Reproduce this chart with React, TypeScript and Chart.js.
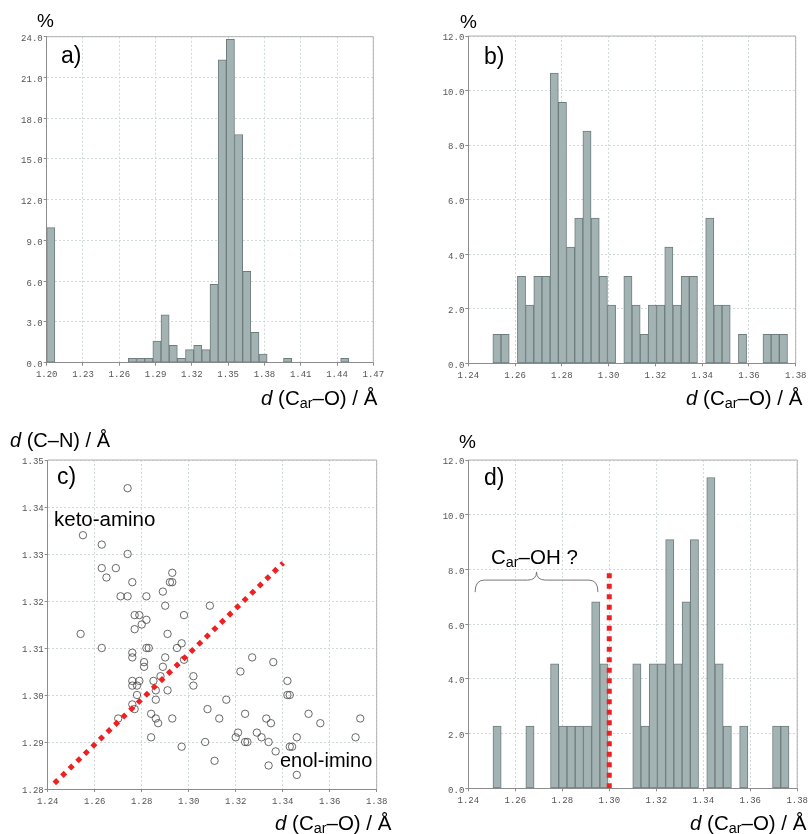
import React, { useEffect, useRef } from 'react';
import { Chart, registerables } from 'chart.js';

Chart.register(...registerables);

const SANS = '"Liberation Sans", Arial, Helvetica, sans-serif';
const MONO = '"Liberation Mono", "Courier New", monospace';

const BINS = 40;

// ---- panel a ----
const A_RANGE = [1.2, 1.47];
const A_VALUES = [
  9.94, 0, 0, 0, 0, 0, 0, 0, 0, 0,
  0.32, 0.32, 0.32, 1.6, 3.53, 1.28, 0.32, 0.96, 1.28, 0.96,
  5.77, 22.3, 23.8, 16.8, 6.73, 2.24, 0.64, 0, 0, 0.32,
  0, 0, 0, 0, 0, 0, 0.32, 0, 0, 0,
];
const A_XTICKS = [1.2, 1.23, 1.26, 1.29, 1.32, 1.35, 1.38, 1.41, 1.44, 1.47];
const A_YTICKS = [0, 3, 6, 9, 12, 15, 18, 21, 24];

// ---- panel b ----
const B_RANGE = [1.24, 1.38];
const B_VALUES = [
  0, 0, 0, 1.06, 1.06, 0, 3.19, 2.13, 3.19, 3.19,
  10.64, 9.57, 4.26, 5.32, 8.51, 5.32, 3.19, 2.13, 0, 3.19,
  2.13, 1.06, 2.13, 2.13, 4.26, 2.13, 3.19, 3.19, 0, 5.32,
  2.13, 2.13, 0, 1.06, 0, 0, 1.06, 1.06, 1.06, 0,
];
const B_XTICKS = [1.24, 1.26, 1.28, 1.3, 1.32, 1.34, 1.36, 1.38];
const B_YTICKS = [0, 2, 4, 6, 8, 10, 12];

// ---- panel c ----
const C_XRANGE = [1.24, 1.38];
const C_YRANGE = [1.28, 1.35];
const C_XTICKS = [1.24, 1.26, 1.28, 1.3, 1.32, 1.34, 1.36, 1.38];
const C_YTICKS = [1.28, 1.29, 1.3, 1.31, 1.32, 1.33, 1.34, 1.35];
const C_POINTS_X = [
  1.274, 1.255, 1.263, 1.274, 1.263, 1.269, 1.265, 1.276, 1.293, 1.292,
  1.293, 1.271, 1.274, 1.282, 1.289, 1.29, 1.309, 1.298, 1.277, 1.279,
  1.282, 1.254, 1.263, 1.277, 1.28, 1.291, 1.295, 1.297, 1.282, 1.283,
  1.276, 1.276, 1.281, 1.281, 1.29, 1.289, 1.288, 1.298, 1.302, 1.302,
  1.276, 1.276, 1.278, 1.279, 1.278, 1.285, 1.286, 1.286, 1.291, 1.276,
  1.277, 1.284, 1.286, 1.287, 1.27, 1.293, 1.284, 1.297, 1.308, 1.313,
  1.316, 1.307, 1.311, 1.322, 1.327, 1.336, 1.324, 1.321, 1.32, 1.324,
  1.325, 1.329, 1.331, 1.333, 1.335, 1.334, 1.337, 1.334, 1.342, 1.342,
  1.343, 1.343, 1.344, 1.346, 1.346, 1.351, 1.356, 1.371, 1.373,
];
const C_POINTS_Y = [
  1.344, 1.334, 1.332, 1.33, 1.327, 1.327, 1.325, 1.324, 1.326, 1.324,
  1.324, 1.321, 1.321, 1.321, 1.322, 1.319, 1.319, 1.317, 1.317, 1.317,
  1.316, 1.313, 1.31, 1.314, 1.315, 1.313, 1.31, 1.311, 1.31, 1.31,
  1.309, 1.308, 1.307, 1.306, 1.308, 1.306, 1.304, 1.3075, 1.304, 1.302,
  1.303, 1.302, 1.302, 1.303, 1.3, 1.303, 1.301, 1.299, 1.301, 1.298,
  1.297, 1.296, 1.295, 1.294, 1.295, 1.295, 1.291, 1.289, 1.297, 1.295,
  1.299, 1.29, 1.286, 1.305, 1.308, 1.307, 1.296, 1.292, 1.291, 1.29,
  1.29, 1.292, 1.291, 1.295, 1.294, 1.29, 1.288, 1.285, 1.303, 1.3,
  1.3, 1.289, 1.289, 1.291, 1.283, 1.296, 1.294, 1.291, 1.295,
];
const C_LINE_X = [1.2428, 1.3402];
const C_LINE_Y = [1.2812, 1.3281];

// ---- panel d ----
const D_RANGE = [1.24, 1.38];
const D_VALUES = [
  0, 0, 0, 2.27, 0, 0, 0, 2.27, 0, 0,
  4.55, 2.27, 2.27, 2.27, 2.27, 6.82, 4.55, 0, 0, 0,
  4.55, 2.27, 4.55, 4.55, 9.09, 4.55, 6.82, 9.09, 0, 11.36,
  4.55, 2.27, 0, 2.27, 0, 0, 0, 2.27, 2.27, 0,
];
const D_XTICKS = [1.24, 1.26, 1.28, 1.3, 1.32, 1.34, 1.36, 1.38];
const D_YTICKS = [0, 2, 4, 6, 8, 10, 12];
const D_LINE_X = [1.3, 1.3];
const D_LINE_Y = [0, 7.9];
const D_BRACE_X = [1.2429, 1.2952];
const D_BRACE_Y = [7.17, 7.61, 7.91]; // ends, line, tip

const BAR_FILL = '#a3b2b2';
const BAR_EDGE = '#6e7d7d';
const RED = '#ee2020';
const AXIS = '#8c8c8c';
const GRID = '#d0dada';

function binCenters(range: number[]) {
  const w = (range[1] - range[0]) / BINS;
  return Array.from({ length: BINS }, (_, i) => range[0] + (i + 0.5) * w);
}

function axis(min: number, max: number, ticks: number[], dec: number, horizontal: boolean) {
  return {
    type: 'linear',
    min,
    max,
    offset: false,
    afterBuildTicks: (s: any) => {
      s.ticks = ticks.map((v) => ({ value: v }));
    },
    afterFit: (s: any) => {
      if (horizontal) s.height = 20;
      else s.width = 40;
    },
    ticks: {
      autoSkip: false,
      maxRotation: 0,
      minRotation: 0,
      color: '#555',
      font: { family: MONO, size: 9 },
      padding: horizontal ? 4 : 1,
      labelOffset: horizontal ? 0 : 2,
      callback: (v: any) => Number(v).toFixed(dec),
    },
    grid: {
      offset: false,
      color: GRID,
      lineWidth: 1,
      drawTicks: true,
      tickLength: 3,
      tickColor: AXIS,
    },
    border: { display: true, color: AXIS, width: 1, dash: [2, 2] },
  };
}

const boxPlugin = {
  id: 'boxFrame',
  afterDraw(chart: any) {
    const { ctx, chartArea } = chart;
    const { left, top, right, bottom } = chartArea;
    ctx.save();
    ctx.strokeStyle = '#b0b0b0';
    ctx.lineWidth = 1;
    ctx.beginPath();
    ctx.moveTo(left, top);
    ctx.lineTo(right, top);
    ctx.lineTo(right, bottom);
    ctx.stroke();
    ctx.restore();
  },
};

const bracePlugin = {
  id: 'brace',
  afterDatasetsDraw(chart: any) {
    const { ctx, scales } = chart;
    const x = scales.x;
    const y = scales.y;
    const x0 = x.getPixelForValue(D_BRACE_X[0]);
    const x1 = x.getPixelForValue(D_BRACE_X[1]);
    const xm = (x0 + x1) / 2;
    const yEnd = y.getPixelForValue(D_BRACE_Y[0]);
    const yLine = y.getPixelForValue(D_BRACE_Y[1]);
    const yTip = y.getPixelForValue(D_BRACE_Y[2]);
    const r = 9;
    ctx.save();
    ctx.strokeStyle = '#777';
    ctx.lineWidth = 1;
    ctx.beginPath();
    ctx.moveTo(x0, yEnd);
    ctx.quadraticCurveTo(x0, yLine, x0 + r, yLine);
    ctx.lineTo(xm - r, yLine);
    ctx.quadraticCurveTo(xm, yLine, xm, yTip);
    ctx.quadraticCurveTo(xm, yLine, xm + r, yLine);
    ctx.lineTo(x1 - r, yLine);
    ctx.quadraticCurveTo(x1, yLine, x1, yEnd);
    ctx.stroke();
    ctx.restore();
  },
};

function barDataset(range: number[], values: number[]) {
  const centers = binCenters(range);
  return {
    type: 'bar',
    order: 1,
    data: centers.map((x, i) => ({ x, y: values[i] })),
    backgroundColor: BAR_FILL,
    borderColor: BAR_EDGE,
    borderWidth: 1,
    borderSkipped: false,
    barPercentage: 1,
    categoryPercentage: 1,
    grouped: false,
  };
}

function redLine(xs: number[], ys: number[]) {
  return {
    type: 'line',
    order: 0,
    data: xs.map((x, i) => ({ x, y: ys[i] })),
    borderColor: RED,
    backgroundColor: RED,
    borderWidth: 5,
    borderDash: [5, 5.5],
    borderCapStyle: 'butt',
    pointRadius: 0,
    fill: false,
    tension: 0,
  };
}

function baseOptions(padding: any, scales: any) {
  return {
    responsive: false,
    animation: false,
    events: [],
    layout: { padding },
    plugins: { legend: { display: false }, tooltip: { enabled: false } },
    scales,
  };
}

function histConfig(range: number[], values: number[], xt: number[], yt: number[], ymax: number, padding: any, extra: any[] = [], plugins: any[] = []) {
  return {
    type: 'bar',
    data: { datasets: [...extra, barDataset(range, values)] },
    options: baseOptions(padding, {
      x: axis(range[0], range[1], xt, 2, true),
      y: axis(0, ymax, yt, 1, false),
    }),
    plugins: [boxPlugin, ...plugins],
  };
}

const txt = (size: number): React.CSSProperties => ({
  position: 'absolute',
  fontFamily: SANS,
  fontSize: size,
  lineHeight: 1,
  whiteSpace: 'nowrap',
  color: '#000',
});

const subStyle: React.CSSProperties = { fontSize: '0.7em', position: 'relative', top: '0.22em' };

function XTitle({ left, top }: { left: number; top: number }) {
  return (
    <div style={{ ...txt(20.5), left, top }}>
      <i>d</i> (C<span style={subStyle}>ar</span>–O) / Å
    </div>
  );
}

export default function App() {
  const refA = useRef<HTMLCanvasElement>(null);
  const refB = useRef<HTMLCanvasElement>(null);
  const refC = useRef<HTMLCanvasElement>(null);
  const refD = useRef<HTMLCanvasElement>(null);

  useEffect(() => {
    const charts: Chart[] = [];
    charts.push(
      new Chart(
        refA.current as HTMLCanvasElement,
        histConfig(A_RANGE, A_VALUES, A_XTICKS, A_YTICKS, 24, { left: 6.7, top: 36.7, right: 32.7, bottom: 17.3 }) as any
      )
    );
    charts.push(
      new Chart(
        refB.current as HTMLCanvasElement,
        histConfig(B_RANGE, B_VALUES, B_XTICKS, B_YTICKS, 12, { left: 22.3, top: 36, right: 16.3, bottom: 16.7 }) as any
      )
    );
    charts.push(
      new Chart(refC.current as HTMLCanvasElement, {
        type: 'scatter',
        data: {
          datasets: [
            redLine(C_LINE_X, C_LINE_Y),
            {
              type: 'scatter',
              order: 1,
              data: C_POINTS_X.map((x, i) => ({ x, y: C_POINTS_Y[i] })),
              pointRadius: 3.7,
              borderColor: '#444',
              pointBorderColor: '#444',
              borderWidth: 0.8,
              pointBorderWidth: 0.8,
              backgroundColor: 'rgba(0,0,0,0)',
              pointBackgroundColor: 'rgba(0,0,0,0)',
            },
          ],
        },
        options: baseOptions(
          { left: 7.7, top: 60, right: 29.3, bottom: 25 },
          {
            x: axis(C_XRANGE[0], C_XRANGE[1], C_XTICKS, 2, true),
            y: axis(C_YRANGE[0], C_YRANGE[1], C_YTICKS, 2, false),
          }
        ),
        plugins: [boxPlugin],
      } as any)
    );
    charts.push(
      new Chart(
        refD.current as HTMLCanvasElement,
        histConfig(
          D_RANGE,
          D_VALUES,
          D_XTICKS,
          D_YTICKS,
          12,
          { left: 22.3, top: 60, right: 14.7, bottom: 25.7 },
          [redLine(D_LINE_X, D_LINE_Y)],
          [bracePlugin]
        ) as any
      )
    );
    return () => charts.forEach((c) => c.destroy());
  }, []);

  const cv = (left: number, top: number): React.CSSProperties => ({ position: 'absolute', left, top });

  return (
    <div style={{ position: 'absolute', left: 0, top: 0, width: 812, height: 834, background: '#fff', overflow: 'hidden' }}>
      <canvas ref={refA} width={406} height={400} style={cv(0, 0)} />
      <canvas ref={refB} width={406} height={400} style={cv(406, 0)} />
      <canvas ref={refC} width={406} height={434} style={cv(0, 400)} />
      <canvas ref={refD} width={406} height={434} style={cv(406, 400)} />

      <div style={{ ...txt(19), left: 37, top: 11 }}>%</div>
      <div style={{ ...txt(19), left: 460, top: 12 }}>%</div>
      <div style={{ ...txt(19), left: 459, top: 432 }}>%</div>

      <div style={{ ...txt(23), left: 61, top: 43.8 }}>a)</div>
      <div style={{ ...txt(23), left: 484, top: 44.5 }}>b)</div>
      <div style={{ ...txt(23), left: 57, top: 465 }}>c)</div>
      <div style={{ ...txt(23), left: 484, top: 465.5 }}>d)</div>

      <XTitle left={261} top={387.7} />
      <XTitle left={686} top={387.7} />
      <XTitle left={275} top={812.7} />
      <XTitle left={690} top={812.7} />

      <div style={{ ...txt(20), left: 10, top: 430 }}>
        <i>d</i> (C–N) / Å
      </div>
      <div style={{ ...txt(20.5), left: 54, top: 509 }}>keto-amino</div>
      <div style={{ ...txt(20), left: 280, top: 750 }}>enol-imino</div>
      <div style={{ ...txt(20.5), left: 491, top: 547 }}>
        C<span style={subStyle}>ar</span>–OH ?
      </div>
    </div>
  );
}
